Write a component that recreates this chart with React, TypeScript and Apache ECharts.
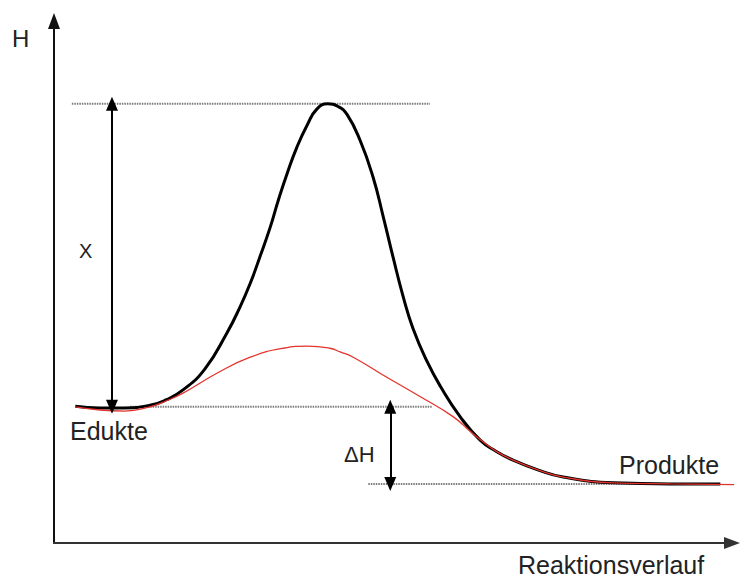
import React, { useEffect, useRef } from "react";
import * as echarts from "echarts";

// Reaction progress (x, 0..~99) vs. enthalpy H (y, 0..~99), arbitrary units
const uncatalysed: [number, number][] = [
  [3.1, 25.9], [6.7, 25.6], [10.1, 25.6], [14.0, 26.1], [16.3, 27.1], [18.8, 29.0],
  [22.0, 33.0], [25.2, 39.8], [27.1, 44.7], [28.6, 49.2], [30.0, 54.2], [31.5, 59.8],
  [32.7, 65.0], [34.0, 70.1], [35.4, 75.0], [36.9, 79.2], [38.3, 82.2], [39.9, 83.2],
  [41.4, 82.7], [42.7, 81.2], [44.6, 76.3], [46.5, 69.3], [48.0, 61.7], [49.4, 54.2],
  [50.9, 46.6], [52.3, 40.7], [54.4, 34.3], [56.3, 29.7], [59.2, 23.9], [62.1, 19.5],
  [64.4, 17.4], [66.9, 15.7], [70.6, 13.8], [74.2, 12.5], [81.5, 11.4], [89.8, 11.2],
  [97.1, 11.2],
];
const catalysed: [number, number][] = [
  [3.1, 25.8], [6.7, 25.2], [10.3, 25.0], [14.0, 25.8], [16.3, 26.9], [18.8, 28.4],
  [23.8, 32.2], [28.6, 35.2], [33.4, 36.9], [36.9, 37.3], [40.2, 36.9], [41.7, 36.2],
  [43.6, 35.2], [48.5, 31.4], [53.4, 27.7], [58.2, 23.9], [60.6, 21.2], [62.1, 19.6],
  [64.4, 17.4], [66.9, 15.7], [70.6, 13.8], [74.2, 12.5], [81.5, 11.4], [89.8, 11.2],
  [101.9, 11.0],
];
const peakLevel = 83.2;
const eduktLevel = 25.8;
const productLevel = 11.2;
const peakGuideX = [2.6, 54.8];
const eduktGuideX = [11.1, 55.1];
const productGuideX = [45.8, 86.9];
const activationArrowX = 8.45;
const deltaHArrowX = 49.0;

const labels = {
  yName: "H",
  xName: "Reaktionsverlauf",
  educts: "Edukte",
  products: "Produkte",
  activation: "X",
  deltaH: "ΔH",
};

const FONT = "'Liberation Sans', Arial, sans-serif";

export default function App() {
  const ref = useRef<HTMLDivElement>(null);
  useEffect(() => {
    if (!ref.current) return;
    const chart = echarts.init(ref.current, undefined, { renderer: "svg" });
    const guide = (xs: number[], y: number) => ({
      type: "line",
      data: [[xs[0], y], [xs[1], y]],
      showSymbol: false,
      silent: true,
      lineStyle: { color: "#7a7a7a", width: 2, type: [1.5, 1] },
      z: 1,
    });
    const text = (t: string, x: number, y: number, size: number) => ({
      type: "text",
      x,
      y,
      style: { text: t, fill: "#222", font: `${size}px ${FONT}`, verticalAlign: "middle", align: "left" },
    });
    chart.setOption({
      animation: false,
      backgroundColor: "#fff",
      grid: { left: 54, right: 21, top: 21, bottom: 37 },
      xAxis: {
        type: "value",
        min: 0,
        max: 98.8,
        axisLine: { show: true, lineStyle: { color: "#333", width: 2 }, symbol: ["none", "triangle"], symbolSize: [12, 16] },
        axisTick: { show: false },
        axisLabel: { show: false },
        splitLine: { show: false },
      },
      yAxis: {
        type: "value",
        min: 0,
        max: 98.9,
        axisLine: { show: true, lineStyle: { color: "#111", width: 2 }, symbol: ["none", "triangle"], symbolSize: [12, 16] },
        axisTick: { show: false },
        axisLabel: { show: false },
        splitLine: { show: false },
      },
      series: [
        guide(peakGuideX, peakLevel),
        guide(eduktGuideX, eduktLevel),
        guide(productGuideX, productLevel),
        {
          type: "line",
          data: uncatalysed,
          smooth: 0.5,
          showSymbol: false,
          clip: false,
          lineStyle: { color: "#000", width: 3 },
          z: 3,
          markLine: {
            silent: true,
            symbol: ["triangle", "triangle"],
            symbolSize: [12, 14],
            label: { show: false },
            lineStyle: { color: "#000", width: 2, type: "solid" },
            data: [
              [{ coord: [activationArrowX, peakLevel] }, { coord: [activationArrowX, eduktLevel] }],
              [{ coord: [deltaHArrowX, eduktLevel] }, { coord: [deltaHArrowX, productLevel] }],
            ],
          },
        },
        {
          type: "line",
          data: catalysed,
          smooth: 0.5,
          showSymbol: false,
          clip: false,
          lineStyle: { color: "#e2332c", width: 1.3 },
          z: 4,
        },
      ],
      graphic: [
        text(labels.yName, 12, 38, 24),
        text(labels.activation, 79, 251, 20),
        text(labels.educts, 70, 431, 25),
        text(labels.deltaH, 344, 454, 22),
        text(labels.products, 619, 465, 25),
        text(labels.xName, 518, 565, 25),
      ],
    });
    return () => chart.dispose();
  }, []);
  return <div ref={ref} style={{ width: 753, height: 580, position: "absolute", left: 0, top: 0 }} />;
}
